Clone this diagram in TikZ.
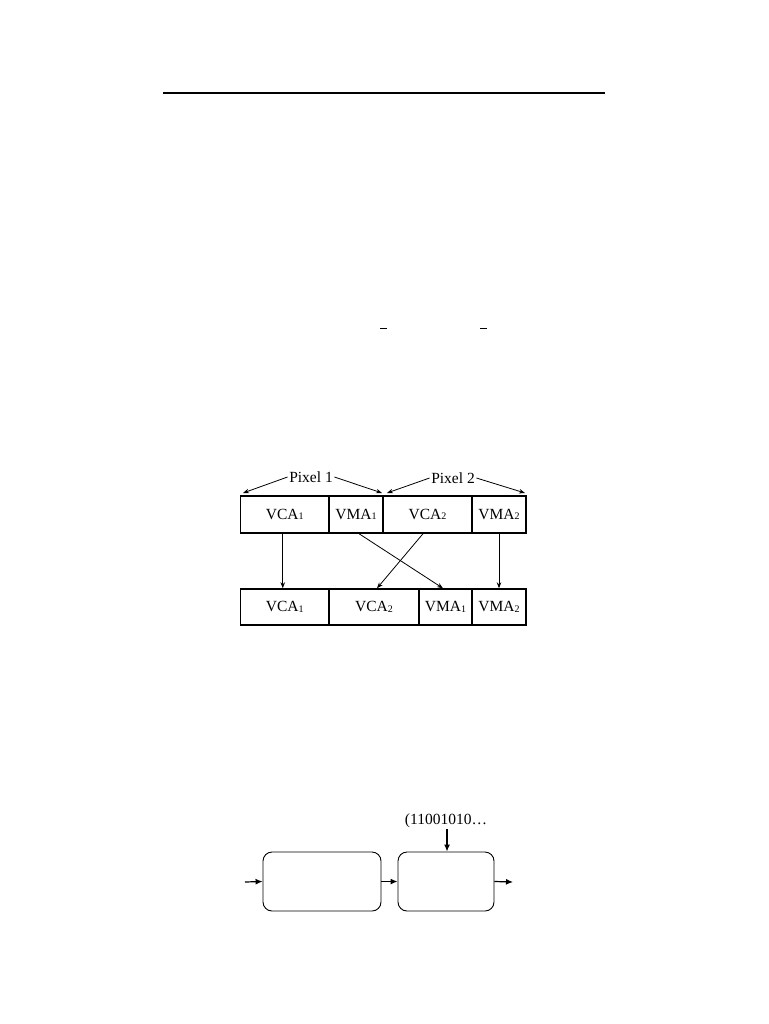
\documentclass[tikz,border=0pt]{standalone}
\usepackage{fontspec}
\setmainfont{Liberation Serif}
\usetikzlibrary{arrows.meta}
\newcommand{\sbs}[1]{\raisebox{-0.1ex}{\fontsize{10}{11}\selectfont #1}}
\begin{document}
\begin{tikzpicture}[x=1pt,y=-1pt,
  cell/.style={draw,line width=1.4pt,minimum height=37pt,inner sep=0pt,font=\fontsize{15.5}{17}\selectfont},
  conn/.style={line width=0.8pt,-{Stealth[length=6pt,width=4.5pt]}},
  lab/.style={font=\fontsize{15.5}{17}\selectfont,inner sep=1.5pt},
  rbox/.style={draw,line width=0.9pt,rounded corners=9pt,minimum height=59pt,inner sep=0pt},
  bconn/.style={line width=1.2pt,-{Latex[length=7pt,width=6pt]}}]
\useasboundingbox (0,0) rectangle (768,1024);
% top rule
\draw[line width=2pt] (163,93) -- (605,93);
% dashes
\draw[line width=1pt] (380,328) -- (387,328);
\draw[line width=1pt] (480,328) -- (487,328);
% top row
\node[cell,minimum width=88.5pt] (t1) at (284.75,514.5) {VCA\sbs{1}};
\node[cell,minimum width=54pt] (t2) at (356,514.5) {VMA\sbs{1}};
\node[cell,minimum width=89pt] (t3) at (427.5,514.5) {VCA\sbs{2}};
\node[cell,minimum width=54pt] (t4) at (499,514.5) {VMA\sbs{2}};
% bottom row
\node[cell,minimum width=88.5pt,minimum height=36pt] (b1) at (284.75,607) {VCA\sbs{1}};
\node[cell,minimum width=90pt,minimum height=36pt] (b2) at (374,607) {VCA\sbs{2}};
\node[cell,minimum width=53pt,minimum height=36pt] (b3) at (445.5,607) {VMA\sbs{1}};
\node[cell,minimum width=54pt,minimum height=36pt] (b4) at (499,607) {VMA\sbs{2}};
% pixel labels
\node[lab] (p1) at (311,477) {Pixel 1};
\node[lab] (p2) at (453,478) {Pixel 2};
\coordinate (p1a) at (243,493);
\coordinate (p1b) at (382,493);
\coordinate (p2a) at (387,493);
\coordinate (p2b) at (525,493);
\draw[conn] (p1.west) -- (p1a);
\draw[conn] (p1.east) -- (p1b);
\draw[conn] (p2.west) -- (p2a);
\draw[conn] (p2.east) -- (p2b);
% mapping arrows
\draw[conn] ([xshift=-2pt]t1.south) -- ([xshift=-2pt]b1.north);
\draw[conn] ([xshift=3pt]t2.south) -- ([xshift=-2.5pt]b3.north);
\draw[conn] ([xshift=-4.5pt]t3.south) -- ([xshift=3pt]b2.north);
\draw[conn] (t4.south) -- (b4.north);
% bottom block diagram
\node[rbox,minimum width=118pt] (r1) at (322,881.5) {};
\node[rbox,minimum width=96pt] (r2) at (446,881.5) {};
\node[font=\fontsize{15.5}{17}\selectfont,inner sep=1pt] (seq) at (446,821) {(11001010\ldots};
\coordinate (in) at (245,882);
\coordinate (out) at (513,882);
\draw[bconn] (in) -- (r1.west);
\draw[bconn] (r1.east) -- (r2.west);
\draw[bconn] (r2.east) -- (out);
\draw[bconn] ([xshift=1pt]seq.south) -- ([xshift=1pt]r2.north);
\end{tikzpicture}
\end{document}
